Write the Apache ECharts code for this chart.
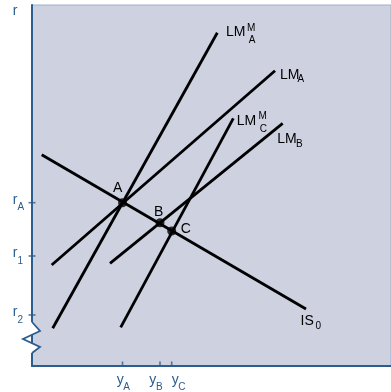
<!DOCTYPE html>
<html><head><meta charset="utf-8">
<script src="https://cdn.jsdelivr.net/npm/echarts@6/dist/echarts.min.js"></script>
<style>html,body{margin:0;padding:0;background:#fff}#c{width:391px;height:392px}</style>
</head><body><div id="c"></div>
<script>
// IS–LM diagram: output y on the horizontal axis, interest rate r on the vertical axis.
const curveIS0 = [[9.7, 211.3], [274, 57]];
const curveLMAM = [[20.7, 37.7], [185.3, 333.3]];
const curveLMA = [[19.7, 101], [243, 295.3]];
const curveLMB = [[78, 102.7], [250.7, 242.7]];
const curveLMCM = [[88.7, 38.7], [201.3, 247.7]];

const pointNames = ['A', 'B', 'C'];
const pointY = [90.5, 128, 139.7];    // output at A, B, C
const pointR = [163.3, 143.3, 135];   // interest rate at A, B, C

const rTickValues = [163.3, 110, 51];
const rTickSubs = ['A', '1', '2'];
const yTickValues = pointY;
const yTickSubs = ['A', 'B', 'C'];

// axis break on the r axis
const breakPath = [[0, 44], [8, 35], [-9, 27], [8, 19], [0, 13]];

const X_MAX = 359, Y_MAX = 361;
const BLUE = '#2b5d8e';
const FONT = '"Liberation Sans", Arial, Helvetica, sans-serif';

const chart = echarts.init(document.getElementById('c'));

// text pieces attached to an anchor: [text, dx, dy, size, colour, align]
function piece(t, dx, dy, size, color, align) {
  return { t, dx, dy, size, color: color || '#000', align: align || 'left' };
}
const M = 14, S = 10;
const annotations = [
  { at: curveLMAM[1], parts: [piece('LM', 8.7, -0.2, M), piece('M', 38, -4.2, S, null, 'right'), piece('A', 38, 7.3, S, null, 'right')] },
  { at: curveLMA[1], parts: [piece('LM', 5, 4.3, M), piece('A', 22.5, 8.8, S)] },
  { at: curveLMCM[1], parts: [piece('LM', 3.4, 3.2, M), piece('M', 33.6, -1.6, S, null, 'right'), piece('C', 33.6, 10.9, S, null, 'right')] },
  { at: curveLMB[1], parts: [piece('LM', -5.4, 15.4, M), piece('B', 13.3, 20.9, S)] },
  { at: curveIS0[1], parts: [piece('IS', -5.5, 12, M), piece('0', 9.5, 17.5, S)] },
  { at: [pointY[0], pointR[0]], parts: [piece(pointNames[0], -9.6, -15, M)] },
  { at: [pointY[1], pointR[1]], parts: [piece(pointNames[1], -6, -10.7, M)] },
  { at: [pointY[2], pointR[2]], parts: [piece(pointNames[2], 9, -2, M)] },
  { at: [0, Y_MAX], parts: [piece('r', -19.3, 6.2, M, BLUE)] }
];
const yLabelDx = [[-5.8, 0.8], [-10.7, -4], [0, 6.6]];
rTickValues.forEach((v, i) => annotations.push({ at: [0, v], parts: [piece('r', -19.3, -2.8, M, BLUE), piece(rTickSubs[i], -14.5, 5, S, BLUE)] }));
yTickValues.forEach((v, i) => annotations.push({ at: [v, 0], parts: [piece('y', yLabelDx[i][0], 13.7, M, BLUE), piece(yTickSubs[i], yLabelDx[i][1], 21.2, S, BLUE)] }));

function curve(name, data) {
  return {
    name, type: 'line', data, symbol: 'none', z: 3, silent: true,
    lineStyle: { color: '#000', width: 2.8 }
  };
}

chart.setOption({
  animation: false,
  grid: {
    left: 32, top: 5, right: 0, bottom: 26, show: true,
    backgroundColor: '#cdd1e0', borderColor: '#9fb0c8', borderWidth: 1
  },
  xAxis: {
    type: 'value', min: 0, max: X_MAX,
    axisLine: { show: true, lineStyle: { color: BLUE, width: 2 } },
    axisTick: { show: false }, axisLabel: { show: false }, splitLine: { show: false }
  },
  yAxis: {
    type: 'value', min: 0, max: Y_MAX,
    axisLine: { show: true, onZero: false, lineStyle: { color: BLUE, width: 2 } },
    axisTick: { show: false }, axisLabel: { show: false }, splitLine: { show: false }
  },
  series: [
    {
      // clears the axis and background behind the break, then draws the break
      type: 'custom', z: 2, silent: true, clip: false, data: [[0, 0]],
      renderItem: function (params, api) {
        const pts = [[-14, breakPath[0][1]]].concat(breakPath, [[-14, breakPath[breakPath.length - 1][1]]]);
        return {
          type: 'group',
          children: [
            { type: 'polygon', shape: { points: pts.map(p => api.coord(p)) }, style: { fill: '#ffffff' } },
            { type: 'polyline', shape: { points: breakPath.map(p => api.coord(p)) },
              style: { fill: null, stroke: BLUE, lineWidth: 1.8, lineJoin: 'miter' } }
          ]
        };
      }
    },
    curve('IS0', curveIS0),
    curve('LMAM', curveLMAM),
    curve('LMA', curveLMA),
    curve('LMB', curveLMB),
    curve('LMCM', curveLMCM),
    {
      type: 'scatter', z: 5, silent: true, symbolSize: 9,
      itemStyle: { color: '#000' },
      data: pointY.map((y, i) => [y, pointR[i]])
    },
    {
      type: 'scatter', z: 4, silent: true, clip: false, symbol: 'rect', symbolSize: [7, 1.6],
      itemStyle: { color: BLUE },
      data: rTickValues.map(v => [0, v])
    },
    {
      type: 'scatter', z: 4, silent: true, clip: false, symbol: 'rect', symbolSize: [1.6, 5], symbolOffset: [0, -2],
      itemStyle: { color: BLUE },
      data: yTickValues.map(v => [v, 0])
    },
    {
      type: 'custom', z: 6, silent: true, clip: false,
      data: annotations.map(a => a.at),
      renderItem: function (params, api) {
        const p = api.coord([api.value(0), api.value(1)]);
        const parts = annotations[params.dataIndex].parts;
        return {
          type: 'group',
          children: parts.map(s => ({
            type: 'text',
            x: p[0] + s.dx, y: p[1] + s.dy,
            style: {
              text: s.t, fontSize: s.size, fontFamily: FONT, fill: s.color,
              align: s.align, verticalAlign: 'middle'
            }
          }))
        };
      }
    }
  ]
});
</script>
</body></html>
